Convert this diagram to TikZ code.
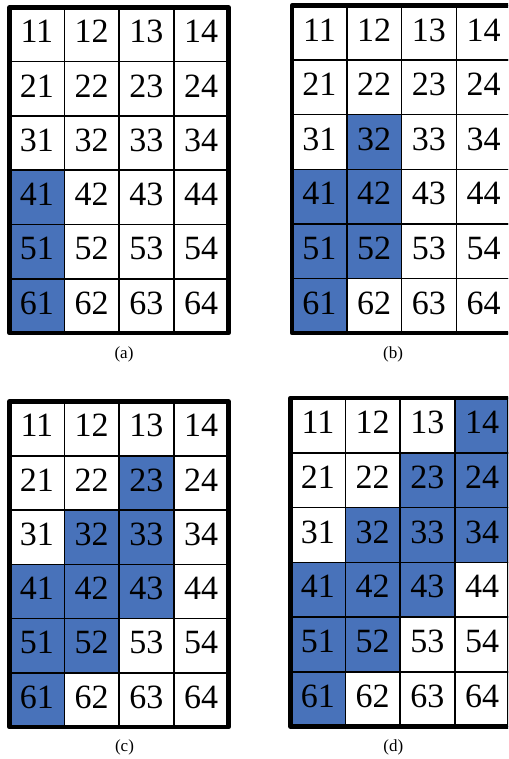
\documentclass[tikz,border=0pt]{standalone}
\usepackage{fontspec}
\setmainfont{Liberation Serif}
\definecolor{cellblue}{RGB}{72,114,186}
\tikzset{
 cell/.style={draw=black, line width=1.5pt, minimum width=54.75pt,
   inner sep=0pt, outer sep=0pt, font=\fontsize{34}{34}\selectfont, text depth=6pt, anchor=north west},
 frame/.style={draw=black, line width=4.5pt, line join=round},
 caption/.style={font=\fontsize{17}{17}\selectfont, inner sep=0pt}
}
\newcommand\markshaded[2]{\foreach \s in {#2}{\expandafter\gdef\csname shade@#1\s\endcsname{}}}
% name, x0, y0, row height
\newcommand\gridat[4]{%
 \foreach \r in {1,...,6}{
  \foreach \c in {1,...,4}{
   \ifcsname shade@#1\r\c\endcsname\def\cellfill{cellblue}\else\def\cellfill{white}\fi
   \node[cell, fill=\cellfill, minimum height=#4pt] (#1\r\c) at ({#2+(\c-1)*54.75},{#3+(\r-1)*#4}) {\r\c};
  }
 }
 \draw[frame] (#111.north west) rectangle (#164.south east);
}
\begin{document}
\markshaded{a}{41,51,61}
\markshaded{b}{32,41,42,51,52,61}
\markshaded{c}{23,32,33,41,42,43,51,52,61}
\markshaded{d}{14,23,24,32,33,34,41,42,43,51,52,61}
\begin{tikzpicture}[x=1pt,y=-1pt]
\useasboundingbox (0,0) rectangle (508,759);
\clip (0,0) rectangle (508,759);
\gridat{a}{9.5}{7.5}{54.25}
\gridat{b}{292}{5.5}{54.6}
\gridat{c}{9.5}{401.5}{54.25}
\gridat{d}{290.5}{398}{54.75}
\node[caption] (capa) at (124,354) {(a)};
\node[caption] (capb) at (393,354) {(b)};
\node[caption] (capc) at (124.5,747) {(c)};
\node[caption] (capd) at (393.3,747) {(d)};
\end{tikzpicture}
\end{document}
